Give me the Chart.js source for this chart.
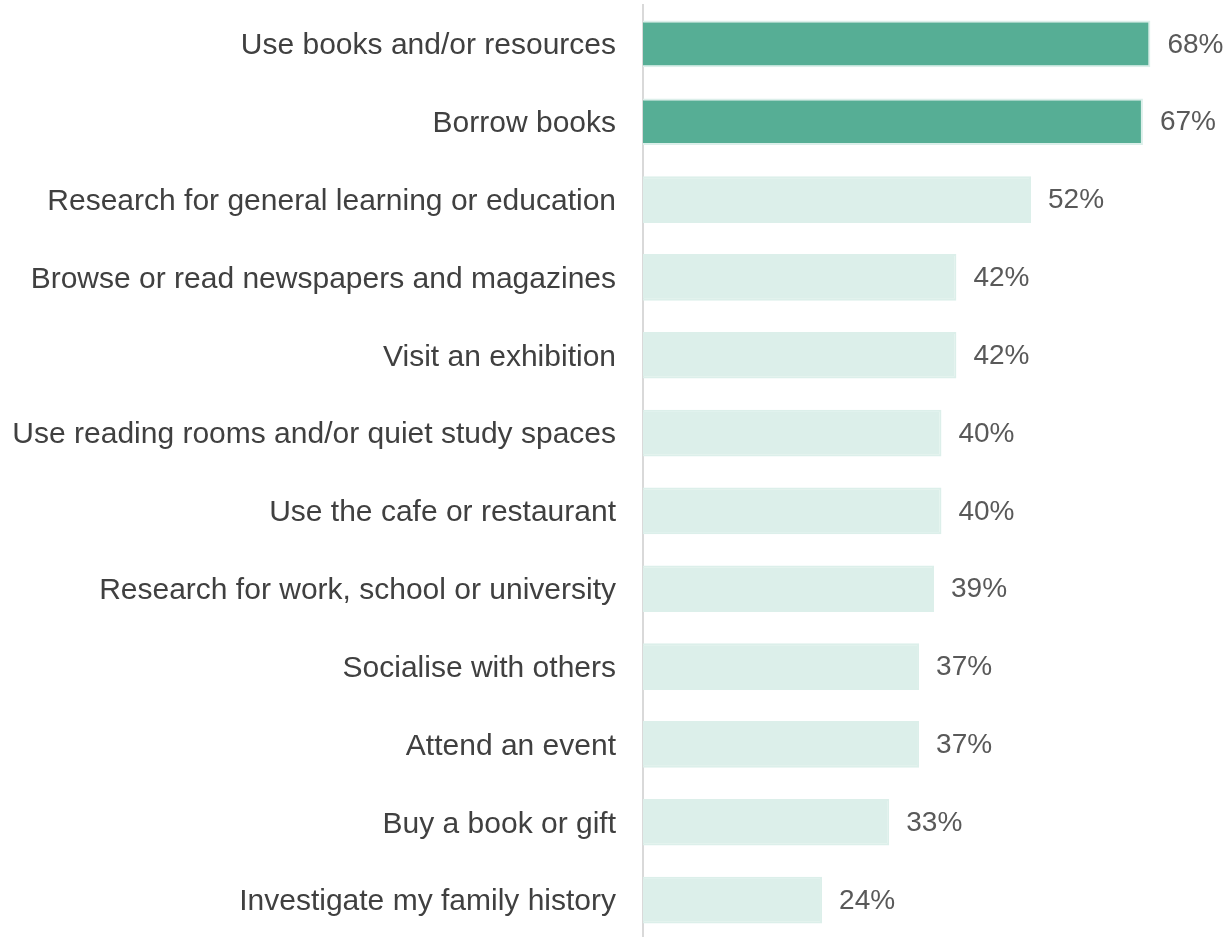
<!DOCTYPE html>
<html>
<head>
<meta charset="utf-8">
<script src="https://cdn.jsdelivr.net/npm/chart.js@4/dist/chart.umd.min.js"></script>
<style>
  html, body { margin: 0; padding: 0; background: #ffffff; overflow: hidden; }
  #wrap { width: 1230px; height: 940px; position: relative; }
</style>
</head>
<body>
<div id="wrap"><canvas id="myCanvas"></canvas></div>
<script>
/* activities asked about, in the order they are listed */
var categories = [
  'Use books and/or resources',
  'Borrow books',
  'Research for general learning or education',
  'Browse or read newspapers and magazines',
  'Visit an exhibition',
  'Use reading rooms and/or quiet study spaces',
  'Use the cafe or restaurant',
  'Research for work, school or university',
  'Socialise with others',
  'Attend an event',
  'Buy a book or gift',
  'Investigate my family history'
];

/* share of respondents, in percent */
var percents = [68, 67, 52, 42, 42, 40, 40, 39, 37, 37, 33, 24];

/* the top two answers are picked out in the darker green */
var highlighted = [true, true, false, false, false, false, false, false, false, false, false, false];

var darkGreen = '#56ae95';
var lightGreen = '#dcefea';

/* writes "NN%" just to the right of every bar */
var valueLabels = {
  id: 'valueLabels',
  afterDatasetsDraw: function(chart) {
    var ctx = chart.ctx;
    var meta = chart.getDatasetMeta(0);
    ctx.save();
    ctx.font = '28px "Liberation Sans", Arial, sans-serif';
    ctx.fillStyle = '#595959';
    ctx.textAlign = 'left';
    ctx.textBaseline = 'middle';
    meta.data.forEach(function(bar, i) {
      ctx.fillText(percents[i] + '%', bar.x + 17, bar.y + 1);
    });
    ctx.restore();
  }
};

var ctx = document.getElementById('myCanvas');
var myChart = new Chart(ctx, {
  type: 'bar',
  data: {
    labels: categories,
    datasets: [{
      data: percents,
      backgroundColor: highlighted.map(function(h) { return h ? darkGreen : lightGreen; }),
      borderColor: lightGreen,
      borderWidth: 2,
      barPercentage: 0.6,
      categoryPercentage: 1.0
    }]
  },
  options: {
    indexAxis: 'y',
    responsive: true,
    maintainAspectRatio: false,
    animation: false,
    layout: {
      padding: { top: 5, right: 5, bottom: 1, left: 0 }
    },
    plugins: {
      legend: { display: false },
      tooltip: { enabled: false },
      title: { display: false }
    },
    scales: {
      x: {
        display: false,
        min: 0,
        max: 78
      },
      y: {
        /* fixed label column so the axis sits where it should,
           and no extra room above/below for the tick labels */
        afterFit: function(scale) {
          scale.width = 643;
          scale.paddingTop = 0;
          scale.paddingBottom = 0;
        },
        grid: { display: false, drawTicks: false },
        border: { display: true, color: '#d9d9d9', width: 2 },
        ticks: {
          padding: 27,
          labelOffset: 2,
          color: '#404040',
          font: { family: '"Liberation Sans", Arial, sans-serif', size: 30 }
        }
      }
    }
  },
  plugins: [valueLabels]
});
</script>
</body>
</html>
